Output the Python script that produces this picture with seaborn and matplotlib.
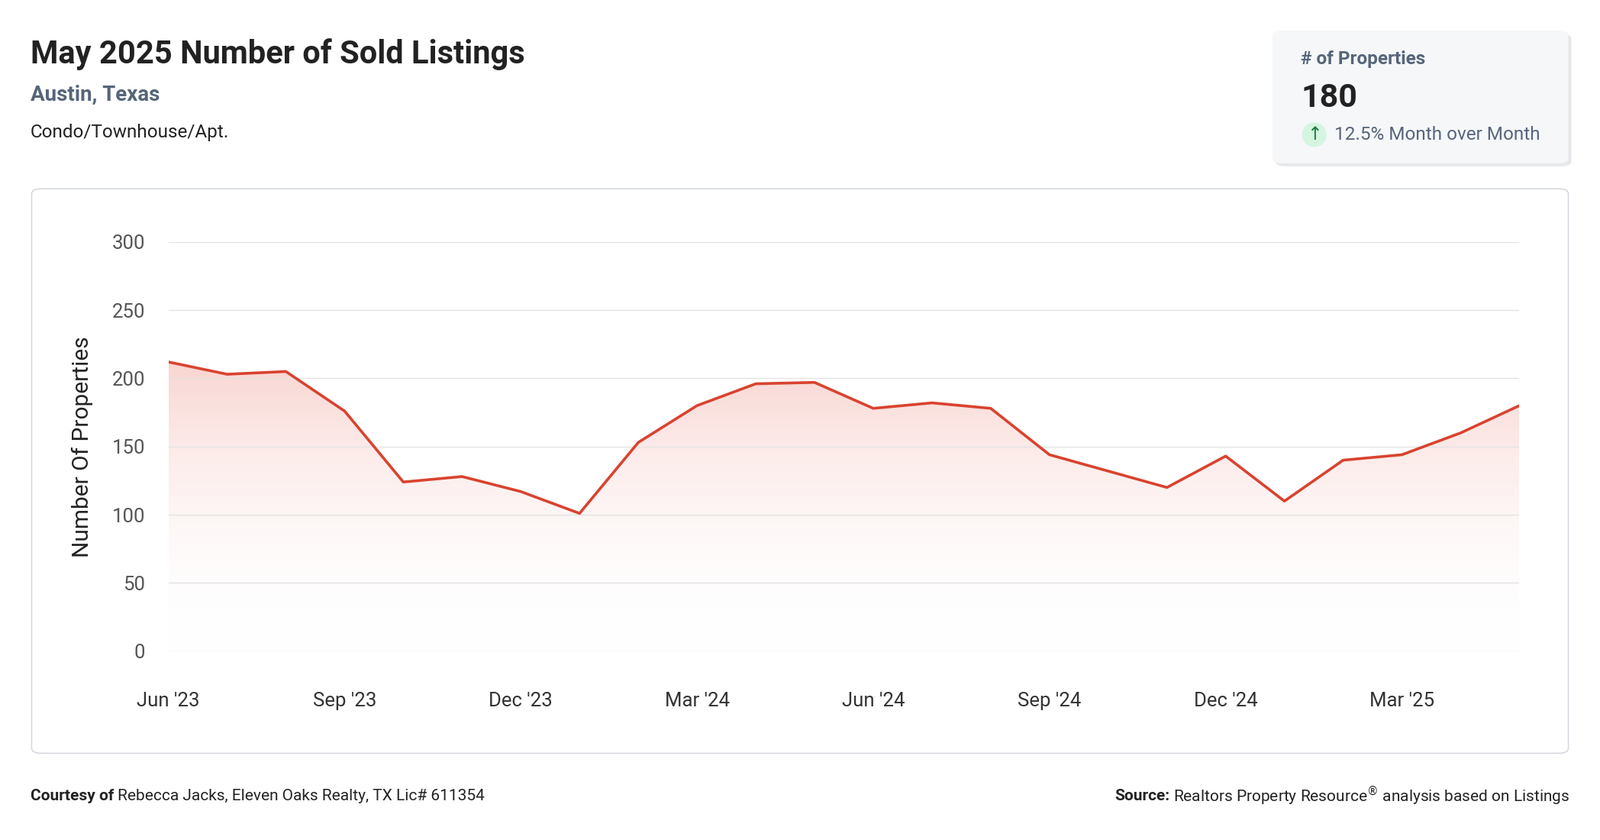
import numpy as np
import pandas as pd
import seaborn as sns
import matplotlib.pyplot as plt
from matplotlib.patches import FancyBboxPatch, Ellipse
from matplotlib.colors import LinearSegmentedColormap

months = ["Jun '23", "Jul '23", "Aug '23", "Sep '23", "Oct '23", "Nov '23", "Dec '23",
          "Jan '24", "Feb '24", "Mar '24", "Apr '24", "May '24", "Jun '24", "Jul '24",
          "Aug '24", "Sep '24", "Oct '24", "Nov '24", "Dec '24", "Jan '25", "Feb '25",
          "Mar '25", "Apr '25", "May '25"]
sold = [212, 203, 205, 176, 124, 128, 117, 101, 153, 180, 196, 197, 178, 182,
        178, 144, 132, 120, 143, 110, 140, 144, 160, 180]
yticks = [0, 50, 100, 150, 200, 250, 300]

W, H = 1568, 823
RED = '#d9432f'
plt.rcParams['font.family'] = 'Roboto'

df = pd.DataFrame({'idx': range(len(months)), 'month': months, 'sold': sold})

fig = plt.figure(figsize=(20.96, 11), dpi=100)
fig.patch.set_facecolor('white')

def fx(x): return x / W
def fy(y): return 1 - y / H

# panel frame
fig.patches.append(FancyBboxPatch((fx(31), fy(738)), fx(1506), (738 - 185) / H,
                                  boxstyle='round,pad=0,rounding_size=0.006',
                                  transform=fig.transFigure, fc='white', ec='#d5d9de', lw=1.2, zorder=-5))
# stat card shadow + card
fig.patches.append(FancyBboxPatch((fx(1250), fy(163)), fx(290), 130 / H,
                                  boxstyle='round,pad=0,rounding_size=0.006',
                                  transform=fig.transFigure, fc='#e6e8eb', ec='none', zorder=-5))
fig.patches.append(FancyBboxPatch((fx(1247), fy(160)), fx(290), 130 / H,
                                  boxstyle='round,pad=0,rounding_size=0.006',
                                  transform=fig.transFigure, fc='#f6f7f9', ec='none', zorder=-4))
fig.patches.append(Ellipse((fx(1288), fy(132)), 24 / W, 24 / H, transform=fig.transFigure,
                           fc='#d5f5e0', ec='none', zorder=-3))

ax = fig.add_axes([fx(165), fy(638), fx(1489 - 165), (638 - 237) / H])
ax.set_zorder(2)
ax.set_facecolor('none')
ax.set_xlim(0, len(months) - 1)
ax.set_ylim(0, 300)

# gradient fill under the line
cmap = LinearSegmentedColormap.from_list('g', [(1, 1, 1, 0), (0.92, 0.45, 0.40, 0.30)])
grad = np.linspace(0, 1, 256).reshape(-1, 1)
im = ax.imshow(grad, extent=[0, len(months) - 1, 0, max(sold)], origin='lower',
               aspect='auto', cmap=cmap, zorder=1)
poly = ax.fill_between(df['idx'], df['sold'], 0, color='none')
im.set_clip_path(poly.get_paths()[0], transform=ax.transData)

sns.lineplot(data=df, x='idx', y='sold', ax=ax, color=RED, lw=2.6, zorder=3)

ax.set_yticks(yticks)
ax.set_yticklabels([str(v) for v in yticks])
ax.set_xticks(df['idx'][::3])
ax.set_xticklabels(df['month'][::3])
ax.grid(axis='y', color='#e3e3e3', lw=1)
ax.grid(axis='x', visible=False)
for s in ax.spines.values():
    s.set_visible(False)
ax.tick_params(length=0, labelsize=18.5, colors='#333333')
ax.tick_params(axis='y', pad=22, labelcolor='#555555')
ax.tick_params(axis='x', pad=38)
ax.set_xlabel('')
ax.set_ylabel('Number Of Properties', fontsize=21.5, color='#222222', labelpad=18)

# titles
fig.text(fx(30), fy(53), 'May 2025 Number of Sold Listings', fontsize=30, fontweight='bold',
         color='#222222', va='center')
fig.text(fx(30), fy(93), 'Austin, Texas', fontsize=20, fontweight='bold', color='#56657a', va='center')
fig.text(fx(30), fy(130), 'Condo/Townhouse/Apt.', fontsize=17.5, color='#222222', va='center')

# card text
fig.text(fx(1275), fy(58), '# of Properties', fontsize=17.5, fontweight='bold', color='#56657a', va='center')
fig.text(fx(1275), fy(96), '180', fontsize=31, fontweight='bold', color='#222222', va='center')
fig.text(fx(1288), fy(132), '\u2191', fontsize=17, color='#1a7f3c', ha='center', va='center',
         fontfamily='DejaVu Sans')
fig.text(fx(1308), fy(132), '12.5% Month over Month', fontsize=17.5, color='#56657a', va='center')

# footer
t = fig.text(fx(30), fy(780), 'Courtesy of', fontsize=15, fontweight='bold', color='#222222', va='center')
fig.canvas.draw()
bb = t.get_window_extent().transformed(fig.transFigure.inverted())
fig.text(bb.x1 + 0.002, fy(780), 'Rebecca Jacks, Eleven Oaks Realty, TX Lic# 611354',
         fontsize=15, color='#222222', va='center')
t2 = fig.text(fx(1538), fy(780), 'Realtors Property Resource$^{\u00ae}$ analysis based on Listings',
              fontsize=15, color='#222222', va='center', ha='right')
fig.canvas.draw()
bb2 = t2.get_window_extent().transformed(fig.transFigure.inverted())
fig.text(bb2.x0 - 0.002, fy(780), 'Source:', fontsize=15, fontweight='bold', color='#222222',
         va='center', ha='right')

fig.savefig('out.png', dpi=100, facecolor='white')
